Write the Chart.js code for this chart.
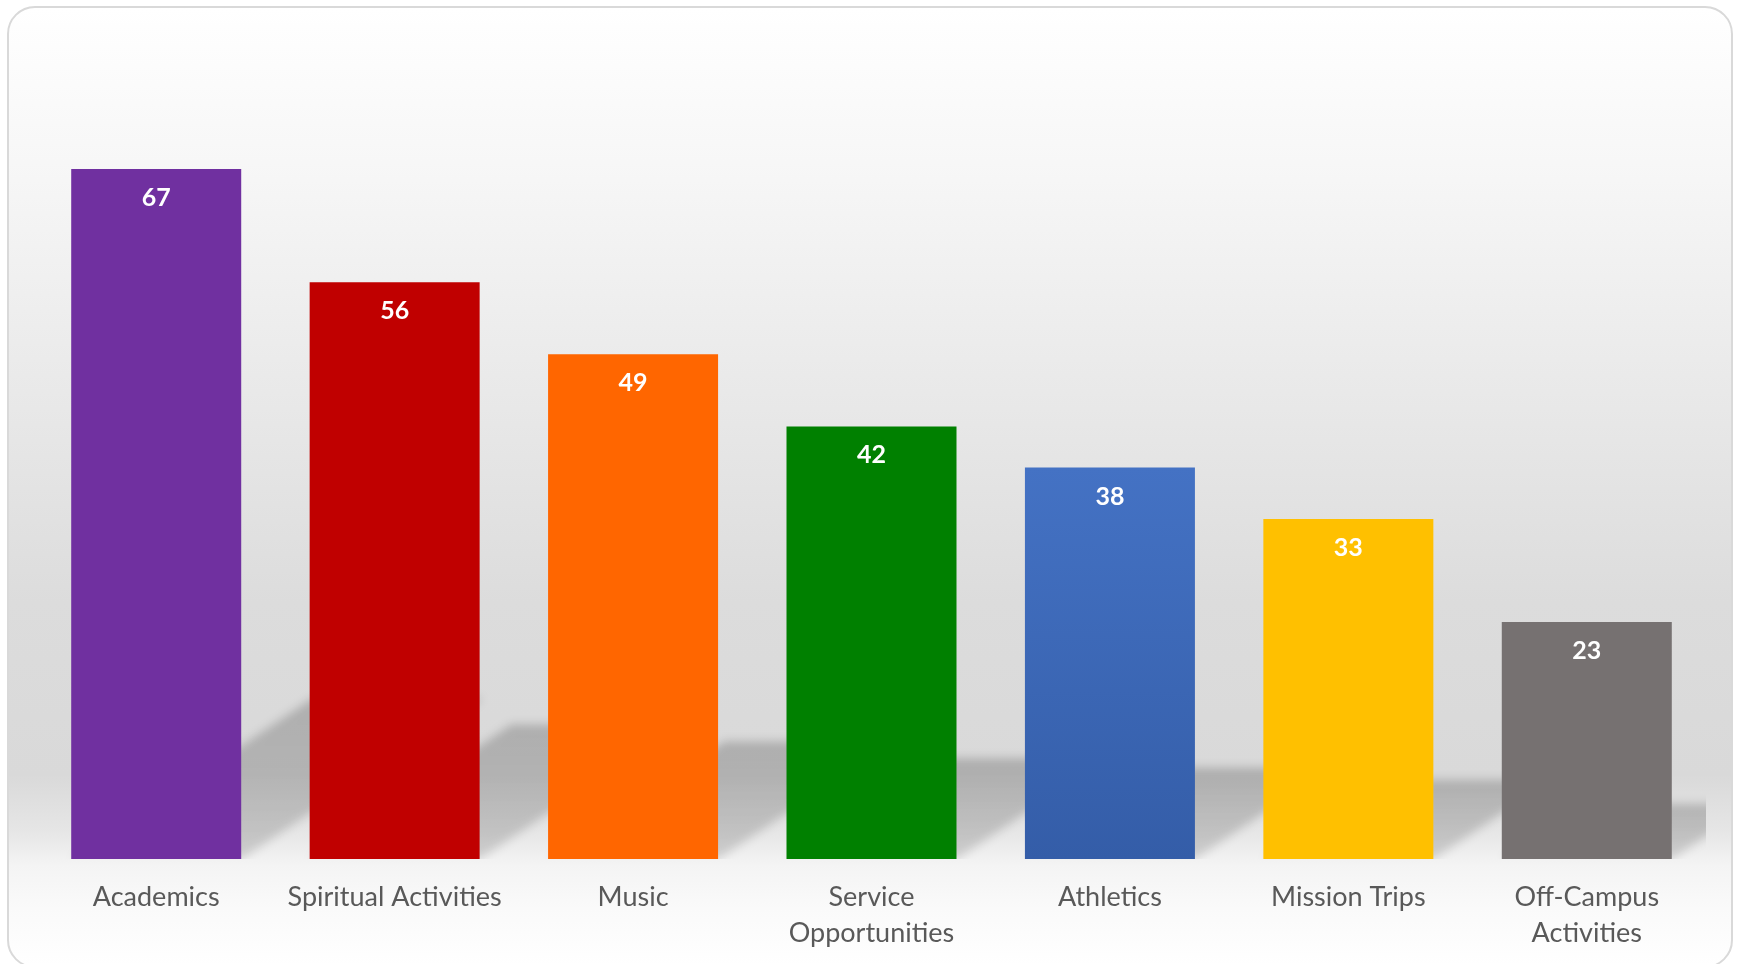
<!DOCTYPE html>
<html>
<head>
<meta charset="utf-8">
<script src="https://cdn.jsdelivr.net/npm/chart.js@4/dist/chart.umd.min.js"></script>
<style>
    html, body { margin: 0; padding: 0; width: 1737px; height: 964px; overflow: hidden; background: #fff; }
    #frame {
        position: absolute; left: 7px; top: 6px; width: 1726px; height: 962px;
        border: 2px solid #d9d9d9; border-radius: 28px; box-sizing: border-box;
        background: linear-gradient(to bottom, #ffffff 0%, #f6f6f6 18%, #e9e9e9 40%, #dcdcdc 62%, #d9d9d9 80%, #e6e6e6 86%, #f4f4f4 89.5%, #fafafa 94%, #ffffff 100%);
    }
    #wrap { position: absolute; left: 0; top: 0; width: 1737px; height: 984px; }
</style>
</head>
<body>
<div id="frame"></div>
<div id="wrap"><canvas id="chart"></canvas></div>
<script>
// Chart data
const categories = ['Academics', 'Spiritual Activities', 'Music', 'Service Opportunities', 'Athletics', 'Mission Trips', 'Off-Campus Activities'];
const tickLabels = ['Academics', 'Spiritual Activities', 'Music', ['Service', 'Opportunities'], 'Athletics', 'Mission Trips', ['Off-Campus', 'Activities']];
const values = [67, 56, 49, 42, 38, 33, 23];
const barColors = ['#7030a0', '#c00000', '#ff6600', '#008000', null, '#ffc000', '#767171'];
const blueTop = '#4472c4';
const blueBottom = '#345da8';

// Athletics bar has a vertical gradient
function barColor(ctx) {
    let c = barColors[ctx.dataIndex];
    if (c) return c;
    let chart = ctx.chart;
    let y = chart.scales.y;
    if (!y) return blueTop;
    let g = chart.ctx.createLinearGradient(0, y.getPixelForValue(values[ctx.dataIndex]), 0, y.getPixelForValue(0));
    g.addColorStop(0, blueTop);
    g.addColorStop(1, blueBottom);
    return g;
}

// Perspective shadow behind every bar
const shadowPlugin = {
    id: 'shadows',
    beforeDatasetsDraw(chart) {
        let ctx = chart.ctx;
        let area = chart.chartArea;
        let meta = chart.getDatasetMeta(0);
        ctx.save();
        ctx.beginPath();
        ctx.rect(area.left, area.top, area.right - area.left, area.bottom - area.top);
        ctx.clip();
        ctx.filter = 'blur(5px)';
        for (let bar of meta.data) {
            let left = bar.x - bar.width / 2;
            let right = bar.x + bar.width / 2;
            let h = bar.base - bar.y;
            let rise = h * 0.233;
            let dx = h * 0.35;
            let g = ctx.createLinearGradient(0, bar.base - rise, 0, bar.base);
            g.addColorStop(0, 'rgba(0,0,0,0.2)');
            g.addColorStop(1, 'rgba(0,0,0,0.14)');
            ctx.fillStyle = g;
            ctx.beginPath();
            ctx.moveTo(left, bar.base);
            ctx.lineTo(right, bar.base);
            ctx.lineTo(right + dx, bar.base - rise);
            ctx.lineTo(left + dx, bar.base - rise);
            ctx.closePath();
            ctx.fill();
        }
        ctx.restore();
    }
};

// White value labels inside the top of each bar
const valueLabels = {
    id: 'valueLabels',
    afterDatasetsDraw(chart) {
        let ctx = chart.ctx;
        let meta = chart.getDatasetMeta(0);
        ctx.save();
        ctx.font = 'bold 25px Lato';
        ctx.fillStyle = '#ffffff';
        ctx.textAlign = 'center';
        ctx.textBaseline = 'alphabetic';
        meta.data.forEach((bar, i) => {
            ctx.fillText(String(values[i]), bar.x, bar.y + 37);
        });
        ctx.restore();
    }
};

const chart = new Chart(document.getElementById('chart'), {
    type: 'bar',
    data: {
        labels: tickLabels,
        datasets: [{
            label: 'Responses',
            data: values,
            backgroundColor: barColor,
            borderWidth: 0,
            barPercentage: 0.713,
            categoryPercentage: 1
        }]
    },
    options: {
        responsive: true,
        maintainAspectRatio: false,
        animation: false,
        layout: { padding: { left: 37, right: 31, top: 35, bottom: 13 } },
        plugins: {
            legend: { display: false },
            tooltip: { enabled: false }
        },
        scales: {
            x: {
                grid: { display: false, drawTicks: false },
                border: { display: false },
                ticks: {
                    color: '#595959',
                    padding: 20,
                    maxRotation: 0,
                    autoSkip: false,
                    font: { family: 'Lato', size: 27, lineHeight: 1.333 }
                }
            },
            y: {
                display: false,
                min: 0,
                max: 80
            }
        }
    },
    plugins: [shadowPlugin, valueLabels]
});
</script>
</body>
</html>
